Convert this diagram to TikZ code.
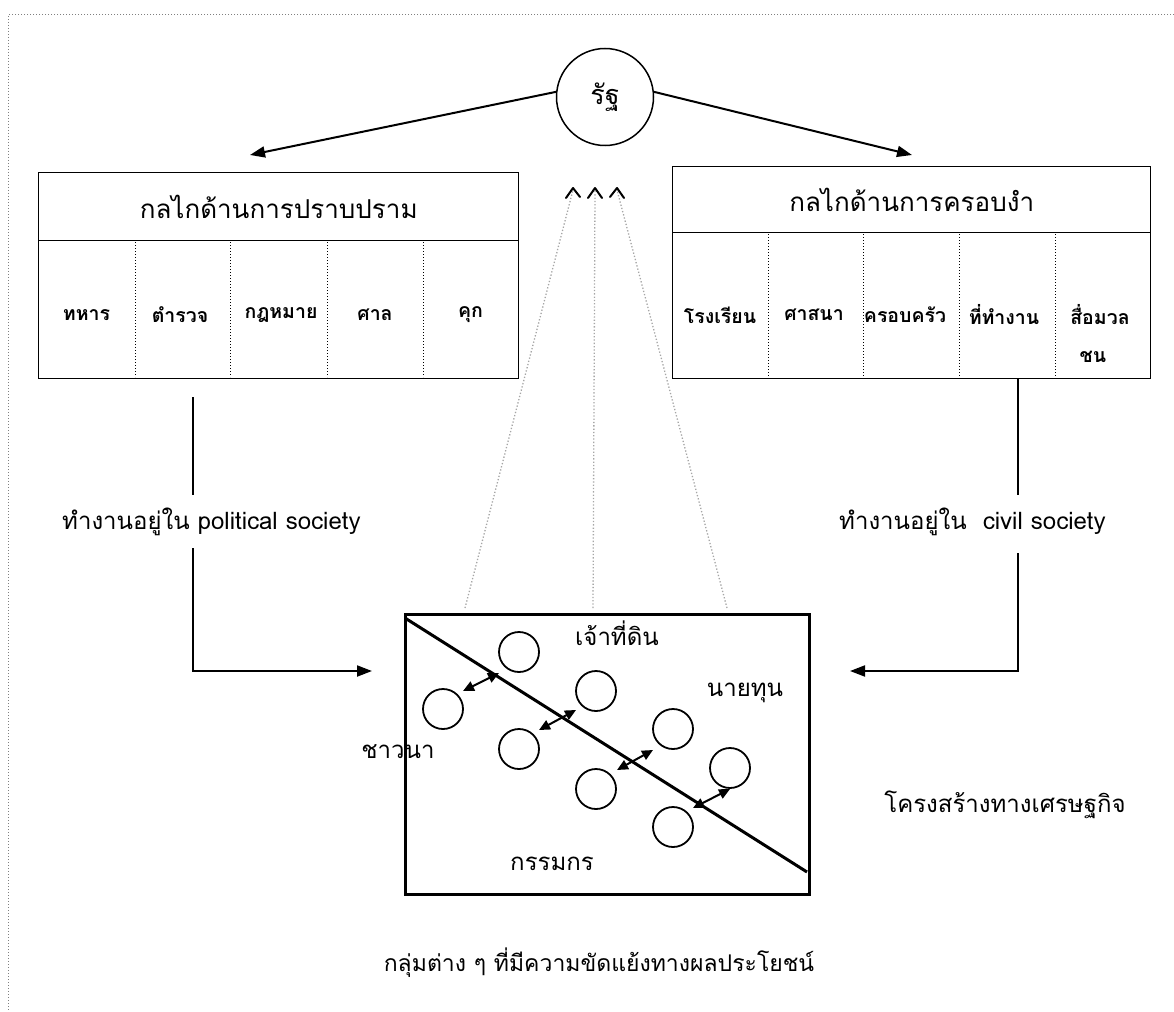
\documentclass[tikz,border=0pt]{standalone}
\usepackage{fontspec}
\setmainfont{Liberation Sans}
\newfontfamily\thai[Script=Thai]{Loma}
\usetikzlibrary{arrows.meta}
\begin{document}
\begin{tikzpicture}[x=1pt,y=-1pt,
  tbox/.style={draw, line width=1.4pt, inner sep=0pt, anchor=north west},
  thead/.style={tbox, font=\thai\fontsize{26}{30}\selectfont},
  cell/.style={font=\thai\bfseries\fontsize{19.5}{26}\selectfont, inner sep=0pt, align=center},
  lbl/.style={font=\thai\fontsize{24}{28}\selectfont, inner sep=0pt},
  divider/.style={dotted, line width=1pt},
  conn/.style={line width=2pt},
  arr/.style={conn, -{Triangle[length=15pt,width=11pt]}},
  darr/.style={line width=2pt, {Triangle[length=11pt,width=10pt]}-{Triangle[length=11pt,width=10pt]}},
  grp/.style={draw, circle, minimum size=40pt, line width=1.8pt, inner sep=0pt},
  gline/.style={dotted, line width=1.3pt, gray!70},
  caret/.style={line width=2pt, line cap=round, line join=round}
]
\useasboundingbox (0,0) rectangle (1174,1011);
% outer dotted frame
\draw[dotted, line width=1pt, gray] (1174,15) -- (8,15) -- (8,1011);

% state circle
\node[draw, circle, minimum size=97pt, line width=1.5pt, inner sep=0pt,
      font=\thai\fontsize{27}{30}\selectfont] (state) at (605,97) {รัฐ};
\coordinate (la) at (250,155);
\coordinate (ra) at (912,155);
\draw[arr] (state.174) -- (la);
\draw[arr] (state.6) -- (ra);

% left table
\node[thead, minimum width=480pt, minimum height=68pt] (lh) at (38,172) {กลไกด้านการปราบปราม};
\node[tbox, minimum width=480pt, minimum height=138pt] (lb) at (38,240) {};
\foreach \x in {135,230,327,423} \draw[divider] (\x,242) -- (\x,377);
\node[cell] (l1) at (86.5,315) {ทหาร};
\node[cell] (l2) at (180,315) {ตำรวจ};
\node[cell] (l3) at (281,315) {กฎหมาย};
\node[cell] (l4) at (375,315) {ศาล};
\node[cell] (l5) at (470.5,315) {คุก};

% right table
\node[thead, minimum width=478pt, minimum height=66pt] (rh) at (672,166) {กลไกด้านการครอบงำ};
\node[tbox, minimum width=478pt, minimum height=146pt] (rb) at (672,232) {};
\foreach \x in {768,863,959,1055} \draw[divider] (\x,234) -- (\x,377);
\node[cell] (r1) at (720,315) {โรงเรียน};
\node[cell] (r2) at (814,315) {ศาสนา};
\node[cell] (r3) at (905,315) {ครอบครัว};
\node[cell] (r4) at (1004,315) {ที่ทำงาน};
\node[cell] (r5) at (1100,315) {สื่อมวล};
\node[cell] (r6) at (1093,357) {ชน};

% economic structure box
\node[draw, line width=2.5pt, minimum width=404pt, minimum height=280pt, inner sep=0pt, anchor=north west] (eco) at (404,613) {};
\coordinate (d1) at (405,618);
\coordinate (d2) at (807,872);
\draw[line width=3pt] (d1) -- (d2);

% connectors from tables
\coordinate (lv1) at (193,397);
\coordinate (lv2) at (193,495);
\coordinate (lv3) at (193,548);
\coordinate (lc) at (193,671);
\coordinate (lt) at (372,671);
\draw[conn] (lv1) -- (lv2);
\draw[arr] (lv3) -- (lc) -- (lt);
\coordinate (rv1) at (1018,378);
\coordinate (rv2) at (1018,495);
\coordinate (rv3) at (1018,553);
\coordinate (rc) at (1018,671);
\coordinate (rt) at (850,671);
\draw[conn] (rv1) -- (rv2);
\draw[arr] (rv3) -- (rc) -- (rt);
\node[lbl, anchor=west] (lw) at (62,522) {{\thai ทำงานอยู่ใน} political society};
\node[lbl, anchor=west] (rw) at (839,522) {{\thai ทำงานอยู่ใน}\ \ civil society};

% dotted lines with carets
\coordinate (k1) at (573,190);
\coordinate (k2) at (595,190);
\coordinate (k3) at (617,190);
\coordinate (b1) at (465,608);
\coordinate (b2) at (593,608);
\coordinate (b3) at (727,608);
\draw[gline] (b1) -- (k1);
\draw[gline] (b2) -- (k2);
\draw[gline] (b3) -- (k3);
\draw[caret] (566,198) -- (573,188) -- (580,197);
\draw[caret] (588,198) -- (595,188) -- (602,198);
\draw[caret] (610,197) -- (617,188) -- (624,198);

% group circles
\node[grp] (g1) at (519,652) {};
\node[grp] (g2) at (443,709) {};
\node[grp] (g3) at (596,691) {};
\node[grp] (g4) at (519,749) {};
\node[grp] (g5) at (673,729) {};
\node[grp] (g6) at (596,789) {};
\node[grp] (g7) at (730,768) {};
\node[grp] (g8) at (673,827) {};
\coordinate (a1) at (463,691); \coordinate (a2) at (499,673);
\coordinate (a3) at (539,730); \coordinate (a4) at (576,710);
\coordinate (a5) at (617,770); \coordinate (a6) at (653,750);
\coordinate (a7) at (693,808); \coordinate (a8) at (730,789);
\draw[darr] (a1) -- (a2);
\draw[darr] (a3) -- (a4);
\draw[darr] (a5) -- (a6);
\draw[darr] (a7) -- (a8);

% labels in box
\node[lbl] (t1) at (617,633) {\thai เจ้าที่ดิน};
\node[lbl] (t2) at (745,693) {\thai นายทุน};
\node[lbl] (t3) at (398,752) {\thai ชาวนา};
\node[lbl] (t4) at (552,864) {\thai กรรมกร};
\node[lbl] (t5) at (1005,805) {\thai โครงสร้างทางเศรษฐกิจ};
\node[lbl, font=\thai\fontsize{23}{28}\selectfont] (t6) at (599,963) {กลุ่มต่าง ๆ ที่มีความขัดแย้งทางผลประโยชน์};
\end{tikzpicture}
\end{document}
